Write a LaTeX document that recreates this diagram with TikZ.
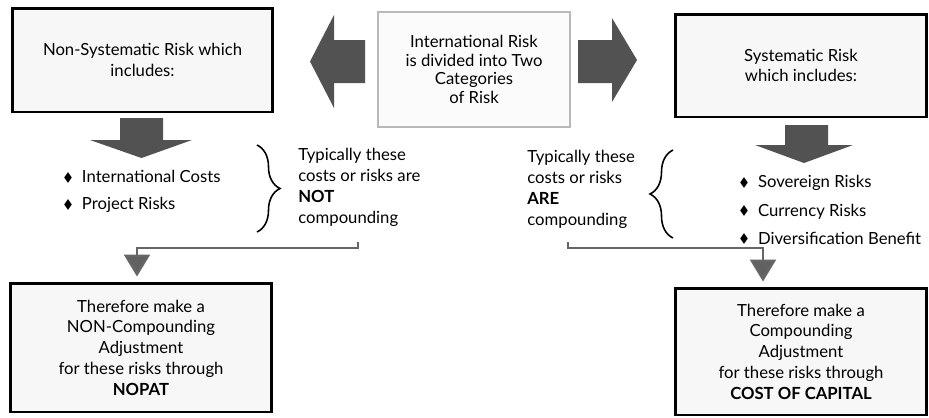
\documentclass[tikz,border=0pt]{standalone}
\usepackage{amssymb}
\usepackage{fontspec}
\setmainfont{Lato}
\usetikzlibrary{positioning, calc, arrows.meta, decorations.pathreplacing}

\newcommand{\bul}{\raisebox{0.15ex}{\scriptsize$\blacklozenge$}\hspace{0.55em}}

\begin{document}
\begin{tikzpicture}[
  x=0.02cm, y=-0.02cm,
  riskbox/.style={draw, line width=1.7pt, fill=gray!6, align=center, inner sep=0pt, font=\fontsize{9.5}{11.8}\selectfont},
  sourcebox/.style={draw=gray!55, line width=1pt, fill=gray!3, align=center, inner sep=0pt, font=\fontsize{9.5}{10.6}\selectfont},
  blockarrow/.style={fill=black!68, draw=none},
  note/.style={align=left, anchor=west, inner sep=0pt, font=\fontsize{9.5}{12}\selectfont},
  itemlist/.style={align=left, anchor=west, inner sep=0pt, font=\fontsize{9.5}{12}\selectfont},
  bracket/.style={decorate, decoration={brace, amplitude=0.46cm}, line width=0.9pt},
  linkline/.style={draw=black!60, line width=1.3pt, rounded corners=0pt, shorten >=0.1cm,
    -{Triangle[width=0.52cm, length=0.44cm, fill=black!62]}}
]
\useasboundingbox (0,0) rectangle (929,417);

% Top row
\node[sourcebox, minimum width=3.84cm, minimum height=2.3cm] (source) at (474,69.5)
  {International Risk\\is divided into Two\\Categories\\of Risk};
\node[riskbox, minimum width=5.22cm, minimum height=2.08cm] (nonsys) at (142.5,60)
  {Non-Systematic Risk which\\includes:};
\node[riskbox, minimum width=5.04cm, minimum height=2.06cm] (sys) at (801,65.5)
  {Systematic Risk\\which includes:};

% Block arrows out of the source box
\fill[blockarrow] (365,40) -- (334,40) -- (334,15) -- (310,61.5) -- (334,108) -- (334,83) -- (365,83) -- cycle;
\fill[blockarrow] (578,40) -- (612,40) -- (612,18) -- (637,60) -- (612,102) -- (612,83) -- (578,83) -- cycle;
% Down arrows
\fill[blockarrow] (120,118) -- (163,118) -- (163,140) -- (192,140) -- (141.5,158) -- (90,140) -- (120,140) -- cycle;
\fill[blockarrow] (785,125) -- (828,125) -- (828,145) -- (853,145) -- (804,163) -- (755,145) -- (785,145) -- cycle;

% Lists
\node[itemlist] (nonsyslist) at (63,191.5)
  {\bul International Costs\\[3pt]\bul Project Risks};
\node[itemlist] (syslist) at (739,210)
  {\bul Sovereign Risks\\[4pt]\bul Currency Risks\\[4pt]\bul Diversification Benefit};

% Braces and notes
\draw[bracket] (257,145) -- (257,232);
\draw[bracket] (673,238) -- (673,150);
\node[note] (notnote) at (298,187)
  {Typically these\\costs or risks are\\\textbf{NOT}\\compounding};
\node[note] (arenote) at (527,189)
  {Typically these\\costs or risks\\\textbf{ARE}\\compounding};

% Bottom row
\node[riskbox, minimum width=5.24cm, minimum height=2.58cm] (nopat) at (141,347.5)
  {Therefore make a\\NON-Compounding\\Adjustment\\for these risks through\\\textbf{NOPAT}};
\node[riskbox, minimum width=5.04cm, minimum height=2.54cm] (coc) at (801,351.5)
  {Therefore make a\\Compounding\\Adjustment\\for these risks through\\\textbf{COST OF CAPITAL}};

% Connectors
\coordinate (notstub) at (358,242);
\coordinate (arestub) at (568,242);
\draw[linkline] (notstub) -- ++(0,6) -| ($(nopat.north)+(-4,0)$);
\draw[linkline] (arestub) -- ++(0,6) -| ($(coc.north)+(-38,0)$);

\end{tikzpicture}
\end{document}
